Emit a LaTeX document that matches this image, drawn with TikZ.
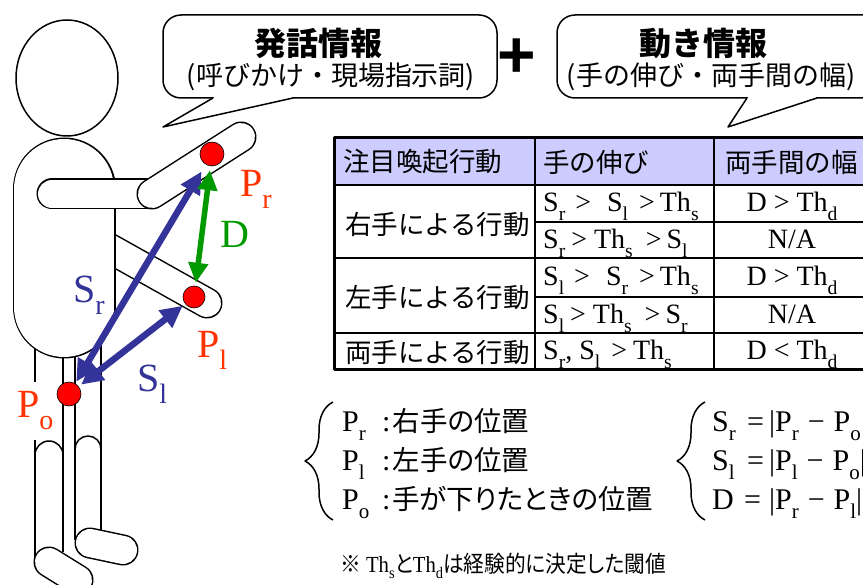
\documentclass[tikz,border=0pt]{standalone}
\usepackage{fontspec}
\usepackage{graphicx}
\setmainfont{Liberation Serif}
\newfontfamily\jp{Noto Sans CJK JP}
\newfontfamily\jpp[RawFeature=+palt]{Noto Sans CJK JP}
\newfontfamily\plusfont{Liberation Sans}
\usetikzlibrary{arrows.meta,decorations.pathreplacing}
\definecolor{sblue}{HTML}{333399}
\definecolor{dgreen}{HTML}{009900}
\definecolor{pred}{HTML}{FF3300}
\definecolor{hdrfill}{HTML}{CCCCFF}
\newcommand{\sbs}[1]{\raisebox{-0.3em}{\scalebox{0.7}{#1}}}
\tikzset{
  limb/.style={double=white, double distance=#1, line width=1.5pt, line cap=round},
  limb/.default=28pt,
  dot/.style={circle, fill=red, draw=black, line width=0.6pt, minimum size=24pt, inner sep=0pt},
  lbl/.style={font=\fontsize{40}{44}\selectfont, inner sep=0pt, anchor=base west},
  sarrow/.style={sblue, line width=6.5pt, {Triangle[length=22pt,width=21pt]}-{Triangle[length=22pt,width=21pt]}},
  darrow/.style={dgreen, line width=5.5pt, {Triangle[length=20pt,width=19pt]}-{Triangle[length=20pt,width=19pt]}},
  bubble/.style={draw, fill=white, line width=1.5pt, rounded corners=18pt},
  btitle/.style={font=\jp\bfseries\fontsize{32}{36}\selectfont},
  bsub/.style={font=\jp\fontsize{27}{30}\selectfont},
  cell/.style={font=\fontsize{28}{32}\selectfont, inner sep=0pt},
  jcell/.style={font=\jp\fontsize{26.5}{32}\selectfont, inner sep=0pt, anchor=west},
  defline/.style={font=\fontsize{30}{34}\selectfont, inner sep=0pt, anchor=base west},
  bracestyle/.style={decorate, decoration={brace, amplitude=28pt}, line width=1.5pt},
}
\begin{document}
\begin{tikzpicture}[x=1pt, y=-1pt, line join=round]
  \useasboundingbox (0,0) rectangle (863,585);
  \clip (0,0) rectangle (863,585);

  % legs and feet
  \foreach \x/\y in {35/560, 63/552, 75/540, 101/540}
    \draw[line width=1.5pt] (\x,330) -- (\x,\y);
  \draw[line width=1.5pt] (35,455) arc[start angle=180, end angle=0, radius=14pt];
  \draw[line width=1.5pt] (75,449) arc[start angle=180, end angle=0, radius=13pt];
  \draw[limb] (90,543) -- (123,550);
  \draw[limb] (49,562) -- (78,580);
  \node[lbl, text=pred, fill=white, inner xsep=3pt, inner ysep=10pt] (lPo) at (14,418) {P\sbs{o}};

  % arms and body
  \draw[limb] (107,247) -- (207,303);
  \draw[limb=100pt] (64,189) -- (64,307);
  \draw[line width=1.5pt, fill=white] (67,78) ellipse [x radius=51pt, y radius=58pt];
  \draw[limb] (52,194) -- (150,194);
  \draw[limb] (152,194) -- (241,137);

  % hand positions
  \node[dot] (Pr) at (212,154) {};
  \node[dot, minimum size=22pt] (Pl) at (194,297) {};
  \node[dot] (Po) at (69,394) {};
  \draw[sarrow, shorten <=2pt, shorten >=8pt] (Po) -- (Pr);
  \draw[sarrow, shorten <=3pt, shorten >=3pt] (Po) -- (Pl);
  \draw[darrow, shorten <=4pt, shorten >=3pt] (Pr) -- (Pl);
  \node[lbl, text=pred] (lPr) at (240,197) {P\sbs{r}};
  \node[lbl, text=pred] (lPl) at (197,358) {P\sbs{l}};
  \node[lbl, text=dgreen] (lD) at (220,248) {D};
  \node[lbl, text=sblue] (lSr) at (73,303) {S\sbs{r}};
  \node[lbl, text=sblue] (lSl) at (137,392) {S\sbs{l}};

  % speech bubbles
  \draw[bubble] (163,15) rectangle (497,98);
  \fill[white] (213,98) -- (163,127) -- (293,98) -- cycle;
  \draw[white, line width=2.5pt] (214,98) -- (292,98);
  \draw[line width=1.5pt] (213,98) -- (163,127) -- (293,98);
  \node[btitle] (say) at (318,43) {発話情報};
  \node[bsub] (saysub) at (331,77) {(呼びかけ・現場指示詞)};

  \node[font=\plusfont\bfseries\fontsize{66}{70}\selectfont, anchor=base, inner sep=0pt] (plus) at (517,78) {+};

  \draw[bubble] (557,15) rectangle (900,98);
  \fill[white] (747,98) -- (728,127) -- (817,98) -- cycle;
  \draw[white, line width=2.5pt] (748,98) -- (816,98);
  \draw[line width=1.5pt] (747,98) -- (728,127) -- (817,98);
  \node[btitle] (move) at (703,43) {動き情報};
  \node[bsub] (movesub) at (711,77) {(手の伸び・両手間の幅)};

  % table
  \fill[hdrfill] (334,138) rectangle (870,185);
  \foreach \y in {222,297}
    \draw[line width=1.2pt] (535,\y) -- (870,\y);
  \foreach \y in {258,333}
    \draw[line width=1.2pt] (334,\y) -- (870,\y);
  \draw[line width=2pt] (334,185) -- (870,185);
  \foreach \x in {535,714}
    \draw[line width=1.2pt] (\x,138) -- (\x,370);
  \draw[line width=3pt] (870,138) -- (334,138) -- (334,370) -- (870,370);

  \node[jcell] (h1) at (343,162) {注目喚起行動};
  \node[jcell] (h2) at (543,162) {手の伸び};
  \node[jcell] (h3) at (725,162) {両手間の幅};
  \node[jcell] (r1) at (345,224) {右手による行動};
  \node[jcell] (r2) at (345,297) {左手による行動};
  \node[jcell] (r3) at (345,352) {両手による行動};

  \node[cell, anchor=base west] (c1) at (543,212) {S\sbs{r}\hspace{10pt}>\hspace{16pt}S\sbs{l}\hspace{11pt}>\hspace{5pt}Th\sbs{s}};
  \node[cell, anchor=base west] (c2) at (543,249) {S\sbs{r}\hspace{6pt}>\hspace{7pt}Th\sbs{s}\hspace{13pt}>\hspace{5pt}S\sbs{l}};
  \node[cell, anchor=base west] (c3) at (543,286) {S\sbs{l}\hspace{10pt}>\hspace{16pt}S\sbs{r}\hspace{11pt}>\hspace{5pt}Th\sbs{s}};
  \node[cell, anchor=base west] (c4) at (543,324) {S\sbs{l}\hspace{6pt}>\hspace{7pt}Th\sbs{s}\hspace{13pt}>\hspace{5pt}S\sbs{r}};
  \node[cell, anchor=base west] (c5) at (543,360) {S\sbs{r}, S\sbs{l}\hspace{11pt}>\hspace{6pt}Th\sbs{s}};
  \node[cell, anchor=base] (d1) at (792,212) {D > Th\sbs{d}};
  \node[cell, anchor=base] (d2) at (792,249) {N/A};
  \node[cell, anchor=base] (d3) at (792,286) {D > Th\sbs{d}};
  \node[cell, anchor=base] (d4) at (792,324) {N/A};
  \node[cell, anchor=base] (d5) at (792,360) {D < Th\sbs{d}};

  % definitions
  \draw[bracestyle] (333,520) -- (333,402);
  \node[defline] (defr) at (342,432) {\makebox[40pt][l]{P\sbs{r}}:\hspace{2pt}{\jpp\fontsize{27.5}{32}\selectfont 右手の位置}};
  \node[defline] (defl) at (342,471) {\makebox[40pt][l]{P\sbs{l}}:\hspace{2pt}{\jpp\fontsize{27.5}{32}\selectfont 左手の位置}};
  \node[defline] (defo) at (342,510) {\makebox[40pt][l]{P\sbs{o}}:\hspace{2pt}{\jpp\fontsize{27.5}{32}\selectfont 手が下りたときの位置}};

  \draw[bracestyle] (705,520) -- (705,402);
  \node[defline] (eqr) at (712,432) {\makebox[35pt][l]{S\sbs{r}}=\hspace{5pt}|P\sbs{r}\hspace{9pt}−\hspace{9pt}P\sbs{o}|};
  \node[defline] (eql) at (712,471) {\makebox[35pt][l]{S\sbs{l}}=\hspace{5pt}|P\sbs{l}\hspace{9pt}−\hspace{9pt}P\sbs{o}|};
  \node[defline] (eqd) at (712,510) {\makebox[32pt][l]{D}=\hspace{8pt}|P\sbs{r}\hspace{9pt}−\hspace{9pt}P\sbs{l}|};

  \node[font=\fontsize{23}{26}\selectfont, inner sep=0pt, anchor=base west, xscale=0.9, transform shape] (note) at (340,572) {{\jpp ※} Th\sbs{s}{\jpp と}Th\sbs{d}{\jpp は経験的に決定した閾値}};
\end{tikzpicture}
\end{document}
